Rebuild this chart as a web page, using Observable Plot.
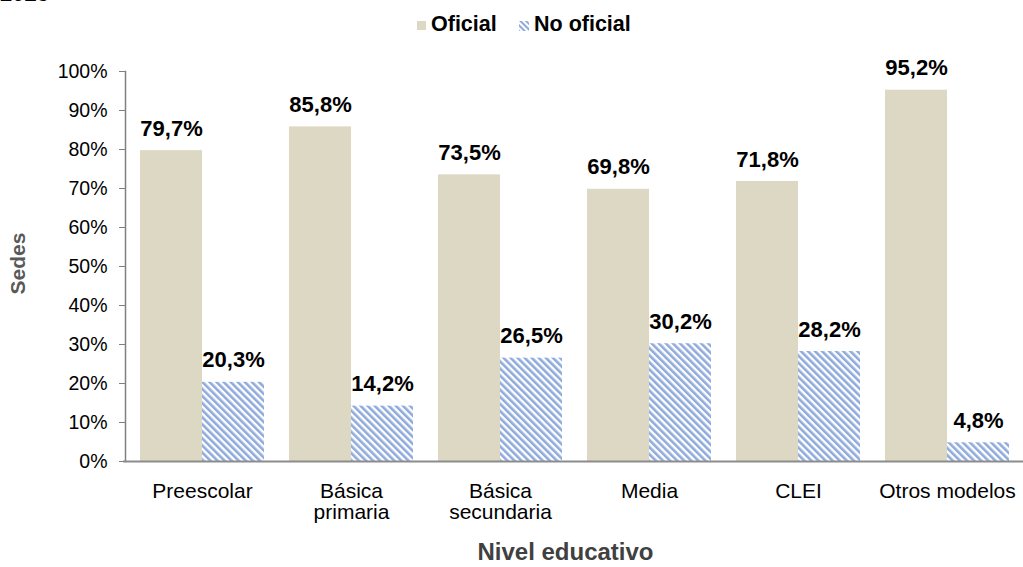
<!DOCTYPE html>
<html>
<head>
<meta charset="utf-8">
<script src="https://cdn.jsdelivr.net/npm/d3@7"></script>
<script src="https://cdn.jsdelivr.net/npm/@observablehq/plot@0.6"></script>
<style>
  body { margin: 0; background: #fff; font-family: "Liberation Sans", Arial, sans-serif; width: 1023px; height: 567px; overflow: hidden; position: relative; }
  #cut { position: absolute; left: 0; top: -17px; font-weight: bold; font-size: 22px; line-height: 22px; color: #000; }
  #legend { position: relative; height: 40px; font-weight: bold; font-size: 21.5px; color: #000; }
  .sw { position: absolute; top: 21px; }
  .lt { position: absolute; top: 12px; line-height: 24px; white-space: nowrap; }
</style>
</head>
<body>
<div id="cut">2023</div>
<div id="legend"></div>
<div id="chart"></div>
<script>
const categories = ["Preescolar", "Básica\nprimaria", "Básica\nsecundaria", "Media", "CLEI", "Otros modelos"];
const oficial = [79.7, 85.8, 73.5, 69.8, 71.8, 95.2];
const noOficial = [20.3, 14.2, 26.5, 30.2, 28.2, 4.8];
const seriesNames = ["Oficial", "No oficial"];
const yTicks = [0, 10, 20, 30, 40, 50, 60, 70, 80, 90, 100];

const colOficial = "#DDD8C3";
const colHatch = "#8FAADC";

const dataOf = categories.map((c, i) => ({category: c, value: oficial[i]}));
const dataNo = categories.map((c, i) => ({category: c, value: noOficial[i]}));
const fmt = v => v.toFixed(1).replace(".", ",") + "%";

// legend
const legend = document.getElementById("legend");
legend.innerHTML = `
  <svg class="sw" style="left:417px" width="9" height="9"><rect width="9" height="9" fill="${colOficial}"/></svg>
  <span class="lt" style="left:431px">${seriesNames[0]}</span>
  <svg class="sw" style="left:519px" width="10" height="10"><defs><pattern id="hl" width="4" height="4" patternUnits="userSpaceOnUse" patternTransform="rotate(-45)"><rect width="4" height="4" fill="#fff"/><rect width="2" height="4" fill="${colHatch}"/></pattern></defs><rect width="10" height="10" fill="url(#hl)"/></svg>
  <span class="lt" style="left:534px">${seriesNames[1]}</span>`;

const half = 62;
const chart = Plot.plot({
  width: 1023,
  height: 527,
  marginTop: 31,
  marginBottom: 106,
  marginLeft: 125,
  marginRight: 0,
  style: {fontFamily: "'Liberation Sans', Arial, sans-serif", fontSize: "16px", color: "#000", background: "#fff", overflow: "visible"},
  x: {domain: categories, paddingInner: 0.17, paddingOuter: 0.085, label: null},
  y: {domain: [0, 100], label: null},
  marks: [
    Plot.barY(dataOf, {x: "category", y: "value", fill: colOficial, insetLeft: 0, insetRight: half}),
    Plot.barY(dataNo, {x: "category", y: "value", fill: "url(#hatch)", insetLeft: half, insetRight: 0}),
    Plot.text(dataOf, {x: "category", y: "value", text: d => fmt(d.value), dx: -half / 2, dy: -22, fontWeight: "bold", fontSize: 22, fill: "#000"}),
    Plot.text(dataNo, {x: "category", y: "value", text: d => fmt(d.value), dx: half / 2, dy: -22, fontWeight: "bold", fontSize: 22, fill: "#000"}),
    Plot.axisY({ticks: yTicks, tickFormat: d => d + "%", tickSize: 6, tickPadding: 12, stroke: "#808080", fill: "#000", fontSize: 19.5, label: null}),
    Plot.axisX({tickSize: 0, tickPadding: 21, fill: "#000", fontSize: 21, label: null, lineHeight: 1.03}),
    Plot.frame({anchor: "left", stroke: "#808080", strokeWidth: 1.5}),
    Plot.ruleY([0], {stroke: "#8c8c8c", strokeWidth: 2, insetLeft: -2}),
    Plot.text(["Nivel educativo"], {frameAnchor: "bottom", dx: -9, dy: 98, fontWeight: "bold", fontSize: 24, fill: "#404040"}),
    Plot.text(["Sedes"], {frameAnchor: "left", textAnchor: "middle", dx: -107, dy: -3, rotate: -90, fontWeight: "bold", fontSize: 21, fill: "#595959"})
  ]
});

// hatch pattern definition for the "No oficial" series
const ns = "http://www.w3.org/2000/svg";
const defs = document.createElementNS(ns, "defs");
defs.innerHTML = `<pattern id="hatch" width="5" height="5" patternUnits="userSpaceOnUse" patternTransform="rotate(-45)"><rect width="5" height="5" fill="#fff"/><rect width="2.6" height="5" fill="${colHatch}"/></pattern>`;
chart.insertBefore(defs, chart.firstChild);
document.getElementById("chart").appendChild(chart);
</script>
</body>
</html>
